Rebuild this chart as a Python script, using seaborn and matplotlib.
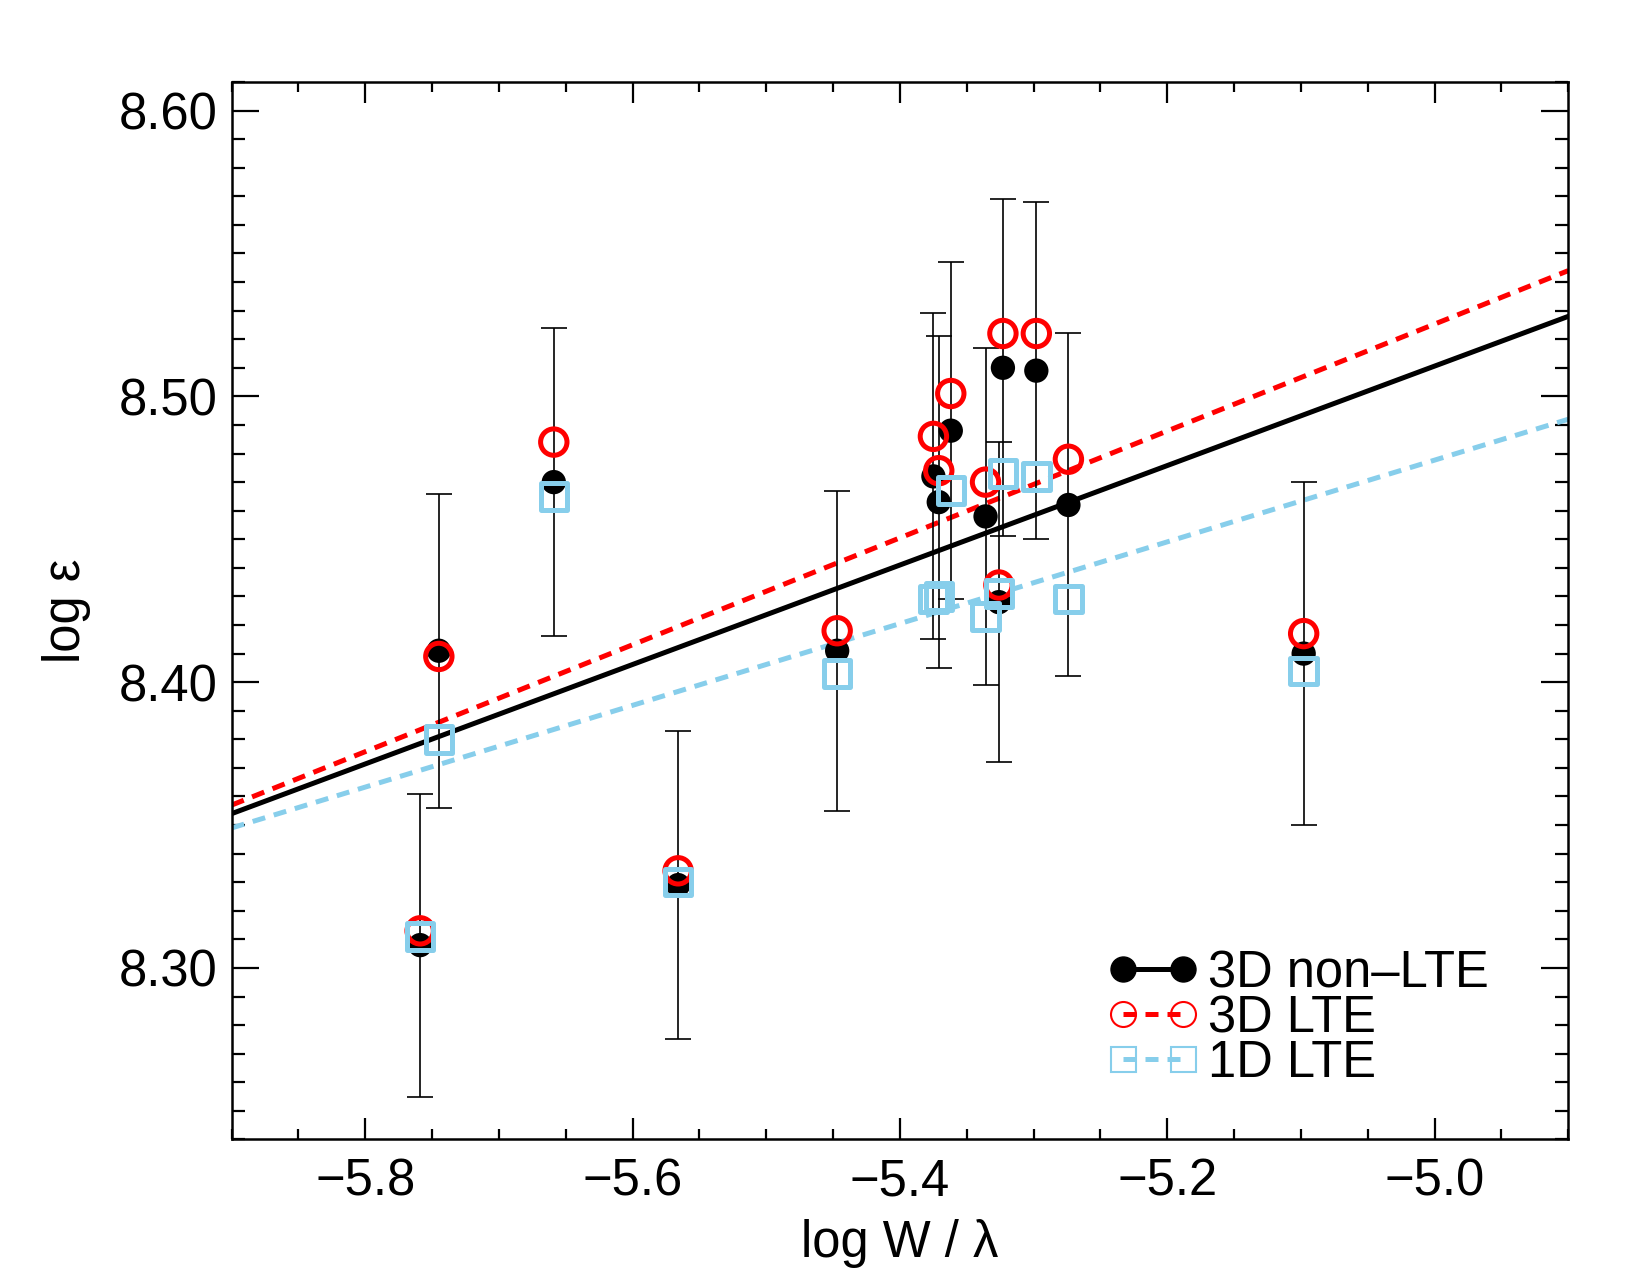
import numpy as np
import pandas as pd
import matplotlib
matplotlib.use("Agg")
import matplotlib.pyplot as plt
import seaborn as sns
from matplotlib.lines import Line2D
from matplotlib.ticker import MultipleLocator, FormatStrFormatter

# ---- data ----
log_w = [-5.759, -5.745, -5.659, -5.566, -5.447, -5.375, -5.371, -5.362,
         -5.336, -5.326, -5.323, -5.298, -5.274, -5.098]
abund_3d_nlte = [8.308, 8.411, 8.470, 8.329, 8.411, 8.472, 8.463, 8.488,
                 8.458, 8.428, 8.510, 8.509, 8.462, 8.410]
abund_3d_lte = [8.313, 8.409, 8.484, 8.334, 8.418, 8.486, 8.474, 8.501,
                8.470, 8.434, 8.522, 8.522, 8.478, 8.417]
abund_1d_lte = [8.311, 8.380, 8.465, 8.330, 8.403, 8.429, 8.430, 8.467,
                8.423, 8.431, 8.473, 8.472, 8.429, 8.404]
abund_err = [0.053, 0.055, 0.054, 0.054, 0.056, 0.057, 0.058, 0.059,
             0.059, 0.056, 0.059, 0.059, 0.060, 0.060]

fit_x = [-5.9, -4.9]
fit_3d_nlte = [8.354, 8.528]
fit_3d_lte = [8.357, 8.544]
fit_1d_lte = [8.349, 8.492]

series_labels = ["3D non\u2013LTE", "3D LTE", "1D LTE"]
x_ticks = [-5.8, -5.6, -5.4, -5.2, -5.0]
y_ticks = [8.30, 8.40, 8.50, 8.60]

# ---- style ----
sns.set_theme(style="ticks")
plt.rcParams['font.family'] = ['Liberation Sans', 'DejaVu Sans']
plt.rcParams['axes.unicode_minus'] = True
plt.rcParams['text.color'] = 'black'
plt.rcParams['axes.labelcolor'] = 'black'

RED = '#ff0000'
BLUE = '#87ceeb'
DASH = (0, (2.6, 1.8))
FS = 36.5

fig = plt.figure(figsize=(16.5, 12.75), dpi=100)
ax = fig.add_axes([0.1404, 0.1063, 0.8101, 0.8294])

# fit lines
sns.lineplot(x=fit_x, y=fit_3d_nlte, ax=ax, color='black', lw=3.6, zorder=2)
sns.lineplot(x=fit_x, y=fit_3d_lte, ax=ax, color=RED, lw=3.6, linestyle=DASH, zorder=2)
sns.lineplot(x=fit_x, y=fit_1d_lte, ax=ax, color=BLUE, lw=3.6, linestyle=DASH, zorder=2)

# error bars on 3D non-LTE
ax.errorbar(log_w, abund_3d_nlte, yerr=abund_err, fmt='none', ecolor='black',
            elinewidth=1.2, capsize=9.4, capthick=1.2, zorder=3)

# points
sns.scatterplot(x=log_w, y=abund_3d_nlte, ax=ax, marker='o', s=17.5**2,
                color='black', edgecolor='none', linewidth=0, zorder=4)
sns.scatterplot(x=log_w, y=abund_3d_lte, ax=ax, marker='o', s=19**2,
                facecolor='none', edgecolor=RED, linewidth=3.6, zorder=5)
sns.scatterplot(x=log_w, y=abund_1d_lte, ax=ax, marker='s', s=19**2,
                facecolor='none', edgecolor=BLUE, linewidth=3.6, zorder=6)

ax.set_xlim(-5.9, -4.9)
ax.set_ylim(8.24, 8.61)
ax.set_xticks(x_ticks)
ax.set_yticks(y_ticks)
ax.xaxis.set_minor_locator(MultipleLocator(0.05))
ax.yaxis.set_minor_locator(MultipleLocator(0.01))
ax.yaxis.set_major_formatter(FormatStrFormatter('%.2f'))

ax.tick_params(axis='both', which='both', direction='in', top=True, right=True,
               width=1.6, color='black', labelsize=FS, labelcolor='black')
ax.tick_params(axis='y', which='major', length=19.2, pad=10)
ax.tick_params(axis='y', which='minor', length=9.6)
ax.tick_params(axis='x', which='major', length=14.9, pad=13)
ax.tick_params(axis='x', which='minor', length=7.4)
for sp in ax.spines.values():
    sp.set_visible(True)
    sp.set_linewidth(1.8)
    sp.set_color('black')

ax.set_xlabel("log W / \u03bb", fontsize=FS, color='black', labelpad=9)
ax.set_ylabel("log \u03b5", fontsize=FS, color='black', labelpad=20)

handles = [
    Line2D([], [], color='black', lw=3.6, marker='o', ms=18, mfc='black', mec='black'),
    Line2D([], [], color=RED, lw=3.6, ls=DASH, marker='o', ms=18, mfc='none', mec=RED, mew=1.5),
    Line2D([], [], color=BLUE, lw=3.6, ls=DASH, marker='s', ms=18, mfc='none', mec=BLUE, mew=1.5),
]
leg = ax.legend(handles, series_labels, loc='upper left', bbox_to_anchor=(0.6715, 0.2555),
                bbox_transform=fig.transFigure, frameon=False, fontsize=FS, numpoints=2,
                handlelength=1.78, handletextpad=0.2, labelspacing=-0.08,
                borderpad=0, borderaxespad=0)
for t in leg.get_texts():
    t.set_color('black')

fig.savefig("out.png", dpi=100)
